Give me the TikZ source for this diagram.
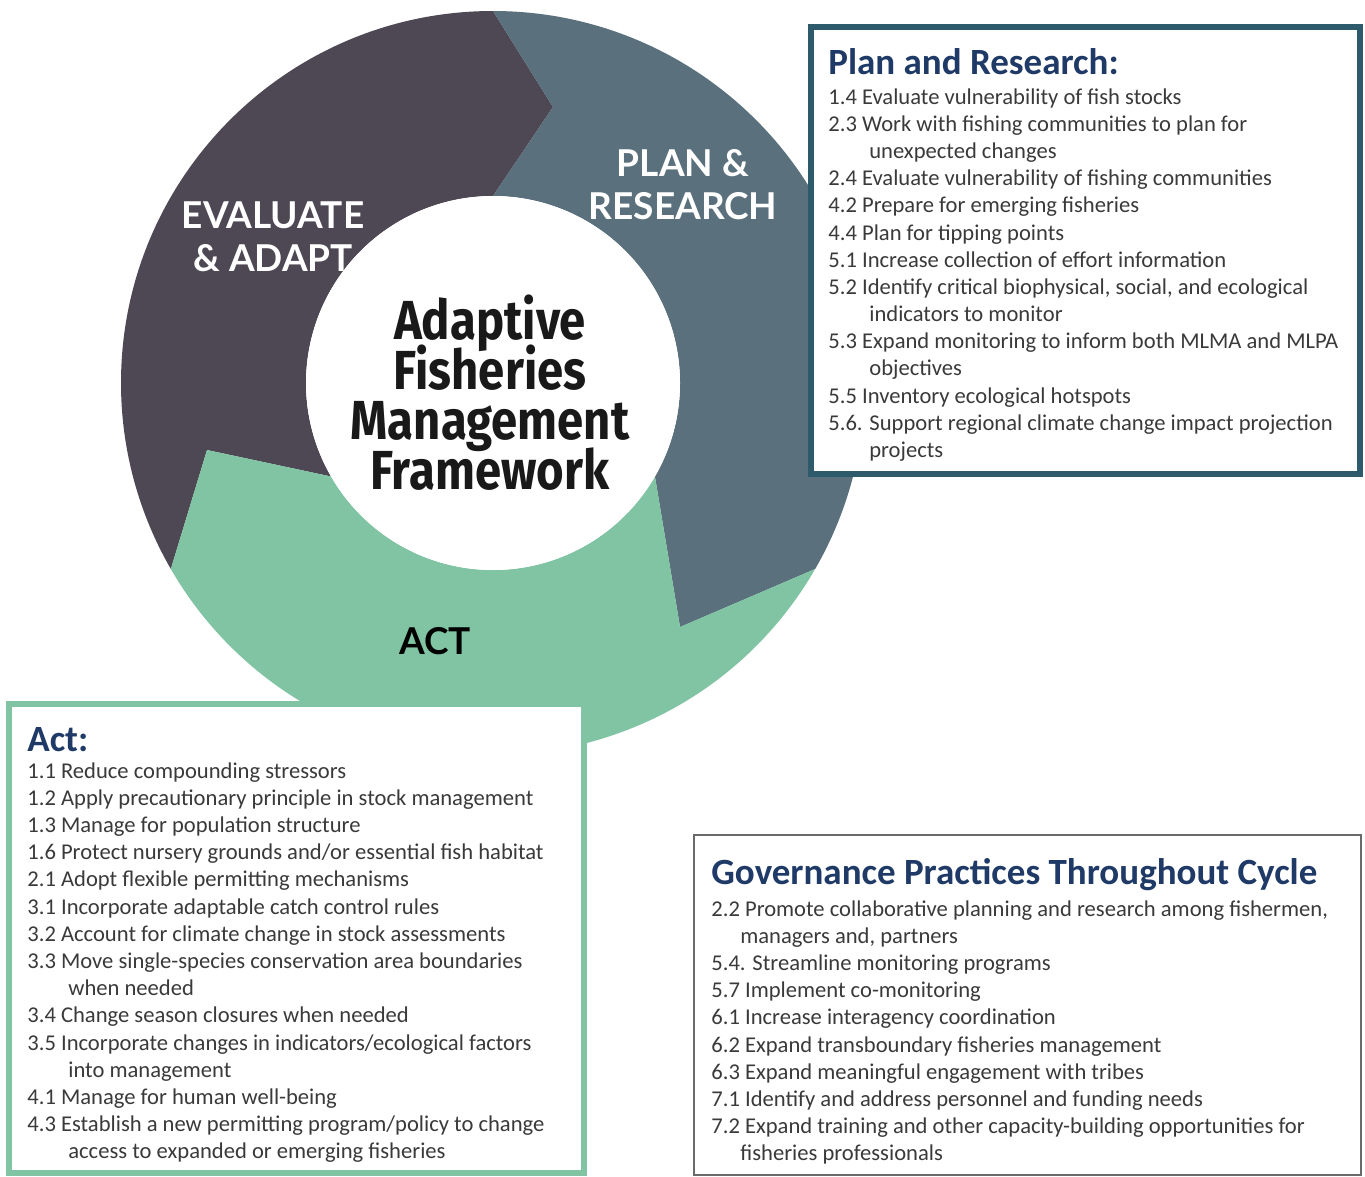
\documentclass[tikz,border=0pt]{standalone}
\usepackage{fontspec}
\usepackage{tikz}
\usepackage{xcolor}
\setmainfont{Carlito}
\newfontfamily\ringfont{Lato}
\newfontfamily\hubfont[FakeStretch=0.86]{Fira Sans}
\usetikzlibrary{positioning,calc}
\newdimen\px
\px=0.569055pt
\newcommand{\tightlines}{\lineskiplimit=-100pt\relax}
\definecolor{afeval}{HTML}{4E4754}
\definecolor{afplan}{HTML}{5A707C}
\definecolor{afact}{HTML}{80C4A4}
\definecolor{afframe}{HTML}{2E5B6C}
\definecolor{afnavy}{HTML}{1F3A66}
\definecolor{aftext}{HTML}{3A3A3A}
\definecolor{afgray}{HTML}{6A6A6A}
\tikzset{
  ringLabel/.style={font=\ringfont\bfseries\fontsize{37\px}{43\px}\selectfont, text=white, align=center, inner sep=0pt},
  hubLabel/.style={font=\hubfont\bfseries\fontsize{55\px}{50\px}\selectfont\tightlines, text=black!90, align=center, inner sep=0pt},
  boxTitle/.style={font=\bfseries\fontsize{37\px}{40\px}\selectfont, text=afnavy, anchor=west, inner sep=0pt},
  boxList/.style={font=\fontsize{22.6\px}{27.2\px}\selectfont, text=aftext, align=left, anchor=north west, inner sep=0pt},
  frameBox/.style={fill=white, line width=6\px}
}
\newcommand{\cont}[1]{\hspace*{41\px}#1}

\begin{document}
\begin{tikzpicture}[x=0.02cm,y=0.02cm]
  \useasboundingbox (0,0) rectangle (1365,-1176);
  \def\outR{372}
  \def\inR{187}
  \coordinate (c) at (493,-383);
  \coordinate (etip) at (553,-107);
  \coordinate (ptip) at (680,-627);
  \coordinate (atip) at (207,-450);

  % the three arrows of the cycle
  \fill[afeval] ($(c)+(90:\outR)$) arc[start angle=90, end angle=210, radius=\outR]
    -- (atip) -- ($(c)+(210:\inR)$) arc[start angle=210, end angle=90, radius=\inR]
    -- (etip) -- cycle;
  \fill[afplan] ($(c)+(90:\outR)$) arc[start angle=90, end angle=-30, radius=\outR]
    -- (ptip) -- ($(c)+(-30:\inR)$) arc[start angle=-30, end angle=90, radius=\inR]
    -- (etip) -- cycle;
  \fill[afact] ($(c)+(-30:\outR)$) arc[start angle=330, end angle=210, radius=\outR]
    -- (atip) -- ($(c)+(210:\inR)$) arc[start angle=210, end angle=330, radius=\inR]
    -- (ptip) -- cycle;

  \node[ringLabel] (evallbl) at (273,-237) {EVALUATE\\\& ADAPT};
  \node[ringLabel] (planlbl) at (683,-185) {PLAN \&\\RESEARCH};
  \node[ringLabel, text=black] (actlbl) at (435,-641) {ACT};

  \fill[white] (c) circle[radius=\inR];
  \node[hubLabel] (hub) at (490,-393) {Adaptive\\Fisheries\\Management\\Framework};

  % plan and research box
  \draw[frameBox, draw=afframe] (811,-27) rectangle (1360,-474);
  \node[boxTitle] (plantitle) at (828,-62) {Plan and Research:};
  \node[boxList] (planlist) at (828,-88) {1.4 Evaluate vulnerability of fish stocks\\
    2.3 Work with fishing communities to plan for\\
    \cont{unexpected changes}\\
    2.4 Evaluate vulnerability of fishing communities\\
    4.2 Prepare for emerging fisheries\\
    4.4 Plan for tipping points\\
    5.1 Increase collection of effort information\\
    5.2 Identify critical biophysical, social, and ecological\\
    \cont{indicators to monitor}\\
    5.3 Expand monitoring to inform both MLMA and MLPA\\
    \cont{objectives}\\
    5.5 Inventory ecological hotspots\\
    5.6. Support regional climate change impact projection\\
    \cont{projects}};

  % act box
  \draw[frameBox, draw=afact] (9,-704) rectangle (584,-1173);
  \node[boxTitle] (acttitle) at (27,-740) {Act:};
  \node[boxList] (actlist) at (27,-762) {1.1 Reduce compounding stressors\\
    1.2 Apply precautionary principle in stock management\\
    1.3 Manage for population structure\\
    1.6 Protect nursery grounds and/or essential fish habitat\\
    2.1 Adopt flexible permitting mechanisms\\
    3.1 Incorporate adaptable catch control rules\\
    3.2 Account for climate change in stock assessments\\
    3.3 Move single-species conservation area boundaries\\
    \cont{when needed}\\
    3.4 Change season closures when needed\\
    3.5 Incorporate changes in indicators/ecological factors\\
    \cont{into management}\\
    4.1 Manage for human well-being\\
    4.3 Establish a new permitting program/policy to change\\
    \cont{access to expanded or emerging fisheries}};

  % governance box
  \draw[fill=white, draw=afgray, line width=2\px] (694,-835) rectangle (1361,-1175);
  \node[boxTitle] (govtitle) at (711,-875) {Governance Practices Throughout Cycle};
  \node[boxList] (govlist) at (711,-900) {2.2 Promote collaborative planning and research among fishermen,\\
    \hspace*{29\px}managers and, partners\\
    5.4. Streamline monitoring programs\\
    5.7 Implement co-monitoring\\
    6.1 Increase interagency coordination\\
    6.2 Expand transboundary fisheries management\\
    6.3 Expand meaningful engagement with tribes\\
    7.1 Identify and address personnel and funding needs\\
    7.2 Expand training and other capacity-building opportunities for\\
    \hspace*{29\px}fisheries professionals};
\end{tikzpicture}
\end{document}
